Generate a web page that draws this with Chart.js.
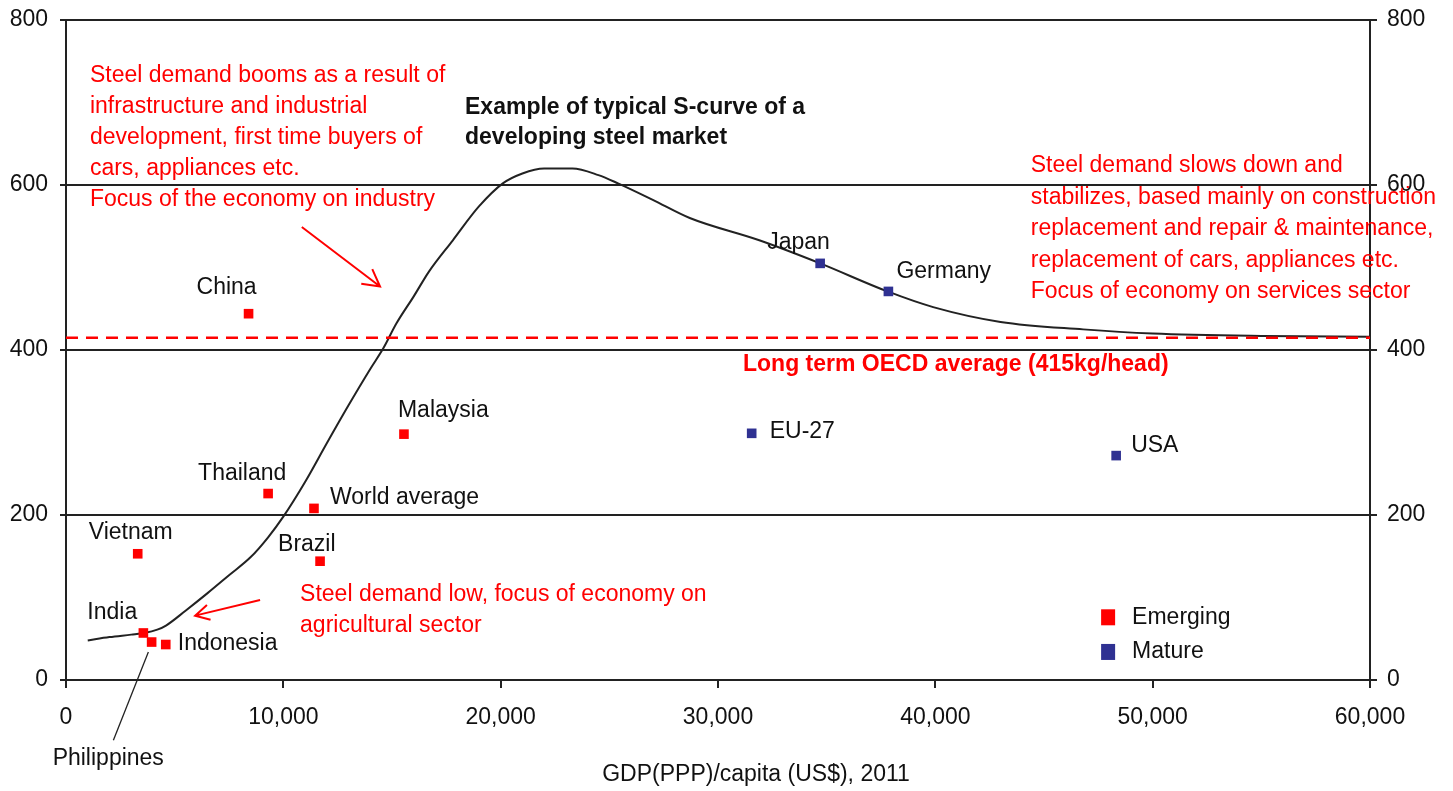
<!DOCTYPE html>
<html>
<head>
<meta charset="utf-8">
<script src="https://cdn.jsdelivr.net/npm/chart.js@4.4.1/dist/chart.umd.min.js"></script>
<style>
  body { margin: 0; background: #fff; }
  #wrap { width: 1453px; height: 791px; }
</style>
</head>
<body>
<div id="wrap"><canvas id="chart"></canvas></div>
<script>
// emerging economies (kg steel per head vs GDP per capita)
const emergingNames = ['China', 'Thailand', 'Vietnam', 'India', 'Philippines', 'Indonesia', 'Brazil', 'World average', 'Malaysia'];
const emergingGdp = [8400, 9300, 3300, 3560, 3940, 4590, 11690, 11410, 15550];
const emergingSteel = [444, 226, 153, 57, 46, 43, 144, 208, 298];

// mature economies
const matureNames = ['EU-27', 'USA', 'Japan', 'Germany'];
const matureGdp = [31550, 48320, 34700, 37840];
const matureSteel = [299, 272, 505, 471];

// typical S-curve
const curveGdp = [1000, 2000, 3000, 3600, 4200, 4600, 5500, 6500, 7500, 8500, 9300, 10000, 11000, 12000, 13000, 14000, 14600, 15200, 16000, 16700, 17800, 19000, 20100, 21000, 22000, 23300, 24500, 25400, 27000, 28700, 31900, 34700, 37800, 39900, 43000, 46800, 50000, 55000, 60000];
const curveSteel = [48, 52, 55, 57, 61, 66, 84, 105, 127, 149, 173, 198, 240, 287, 333, 377, 402, 432, 465, 495, 533, 574, 602, 614, 620, 620, 612, 602, 582, 560, 533, 505, 471, 452, 434, 425, 420, 417, 416];

const oecdAverage = 415;

const xTicks = [0, 10000, 20000, 30000, 40000, 50000, 60000];
const yTicks = [0, 200, 400, 600, 800];

// label placement (pixel offset of label's left/middle from its marker)
const labelOffsets = {
  'China': [-52, -26], 'Thailand': [-70, -20], 'Vietnam': [-49, -21], 'India': [-56, -20],
  'Philippines': [-99, 117], 'Indonesia': [12, -1], 'Brazil': [-42, -17], 'World average': [16, -11],
  'Malaysia': [-6, -23], 'EU-27': [18, -2], 'USA': [15, -10], 'Japan': [-53, -21], 'Germany': [8, -20]
};

const RED = '#ff0000';
const BLUE = '#2f3192';
const INK = '#111111';
const FAMILY = '"Liberation Sans", Arial, sans-serif';

const toPoints = (xs, ys) => xs.map((x, i) => ({ x: x, y: ys[i] }));

function arrow(ctx, x1, y1, x2, y2, head) {
  const a = Math.atan2(y2 - y1, x2 - x1);
  ctx.beginPath();
  ctx.moveTo(x1, y1);
  ctx.lineTo(x2, y2);
  ctx.moveTo(x2 - head * Math.cos(a - 0.5), y2 - head * Math.sin(a - 0.5));
  ctx.lineTo(x2, y2);
  ctx.lineTo(x2 - head * Math.cos(a + 0.5), y2 - head * Math.sin(a + 0.5));
  ctx.stroke();
}

function lines(ctx, arr, x, y, step) {
  arr.forEach((t, i) => ctx.fillText(t, x, y + i * step));
}

const annotate = {
  id: 'annotate',
  afterDatasetsDraw(chart) {
    const ctx = chart.ctx;
    const px = v => chart.scales.x.getPixelForValue(v);
    const py = v => chart.scales.y.getPixelForValue(v);
    ctx.save();
    ctx.textBaseline = 'middle';
    ctx.textAlign = 'left';

    // point labels
    ctx.font = '23px ' + FAMILY;
    ctx.fillStyle = INK;
    const put = (names, gx, sy) => names.forEach((n, i) => {
      const o = labelOffsets[n];
      ctx.fillText(n, px(gx[i]) + o[0], py(sy[i]) + o[1]);
    });
    put(emergingNames, emergingGdp, emergingSteel);
    put(matureNames, matureGdp, matureSteel);

    // Philippines leader line
    ctx.strokeStyle = '#222';
    ctx.lineWidth = 1.3;
    ctx.beginPath();
    ctx.moveTo(px(3790), py(34));
    ctx.lineTo(px(2180), py(-73));
    ctx.stroke();

    // title
    ctx.font = 'bold 23px ' + FAMILY;
    lines(ctx, ['Example of typical S-curve of a', 'developing steel market'], px(18360), py(694), 30);

    // red notes
    ctx.fillStyle = RED;
    ctx.font = '23px ' + FAMILY;
    lines(ctx, ['Steel demand booms as a result of', 'infrastructure and industrial',
      'development, first time buyers of', 'cars, appliances etc.', 'Focus of the economy on industry'],
      px(1100), py(732), 31);
    lines(ctx, ['Steel demand slows down and', 'stabilizes, based mainly on construction',
      'replacement and repair & maintenance,', 'replacement of cars, appliances etc.',
      'Focus of economy on services sector'], px(44390), py(623), 31.5);
    lines(ctx, ['Steel demand low, focus of economy on', 'agricultural sector'], px(10770), py(103), 31);
    ctx.font = 'bold 23px ' + FAMILY;
    ctx.fillText('Long term OECD average (415kg/head)', px(31150), py(382));

    // arrows
    ctx.strokeStyle = RED;
    ctx.lineWidth = 2;
    arrow(ctx, px(10850), py(549), px(14450), py(477), 19);
    arrow(ctx, px(8930), py(97), px(5940), py(78), 16);

    // legend
    const lx = px(47950);
    [[RED, 'Emerging', 76], [BLUE, 'Mature', 34]].forEach(([c, t, v]) => {
      const ly = py(v);
      ctx.fillStyle = c;
      ctx.fillRect(lx - 7, ly - 8, 14, 16);
      ctx.fillStyle = INK;
      ctx.font = '23px ' + FAMILY;
      ctx.fillText(t, lx + 24, ly);
    });

    // x-axis title
    ctx.textAlign = 'center';
    ctx.fillText('GDP(PPP)/capita (US$), 2011', px(31750), chart.chartArea.bottom + 95);
    ctx.restore();
  }
};

const tickFont = { family: FAMILY, size: 23 };

// fixed box sizes so the plot area lands where the original has it
const fixV = w => s => { s.width = w; s.paddingTop = 0; s.paddingBottom = 0; };

new Chart(document.getElementById('chart'), {
  type: 'scatter',
  data: {
    datasets: [
      {
        label: 'Emerging',
        data: toPoints(emergingGdp, emergingSteel),
        backgroundColor: RED,
        borderWidth: 0,
        pointStyle: 'rect',
        pointRadius: 6.8
      },
      {
        label: 'Mature',
        data: toPoints(matureGdp, matureSteel),
        backgroundColor: BLUE,
        borderWidth: 0,
        pointStyle: 'rect',
        pointRadius: 6.8
      },
      {
        label: 'OECD average',
        data: [{ x: 0, y: oecdAverage }, { x: 60000, y: oecdAverage }],
        showLine: true,
        borderColor: RED,
        borderWidth: 2.5,
        borderDash: [12, 8],
        pointRadius: 0
      },
      {
        label: 'S-curve',
        data: toPoints(curveGdp, curveSteel),
        showLine: true,
        borderColor: '#222',
        borderWidth: 2,
        cubicInterpolationMode: 'monotone',
        pointRadius: 0
      }
    ]
  },
  options: {
    responsive: true,
    maintainAspectRatio: false,
    animation: false,
    layout: { padding: { top: 20, left: 0, right: 0, bottom: 0 } },
    plugins: {
      legend: { display: false },
      tooltip: { enabled: false }
    },
    scales: {
      x: {
        type: 'linear',
        min: 0,
        max: 60000,
        afterBuildTicks: s => { s.ticks = xTicks.map(v => ({ value: v })); },
        afterFit: s => { s.height = 111; s.paddingLeft = 0; s.paddingRight = 0; },
        ticks: {
          font: tickFont,
          color: INK,
          padding: 16,
          maxRotation: 0,
          callback: v => v.toLocaleString('en-US')
        },
        grid: { drawOnChartArea: false, tickLength: 8, color: '#222', lineWidth: 2 },
        border: { color: '#222', width: 2 }
      },
      y: {
        position: 'left',
        min: 0,
        max: 800,
        afterBuildTicks: s => { s.ticks = yTicks.map(v => ({ value: v })); },
        afterFit: fixV(66),
        ticks: { font: tickFont, color: INK, padding: 12 },
        grid: { color: '#222', lineWidth: 2, tickLength: 6 },
        border: { color: '#222', width: 2 }
      },
      y2: {
        position: 'right',
        min: 0,
        max: 800,
        afterBuildTicks: s => { s.ticks = yTicks.map(v => ({ value: v })); },
        afterFit: fixV(83),
        ticks: { font: tickFont, color: INK, padding: 10 },
        grid: { drawOnChartArea: false, color: '#222', lineWidth: 2, tickLength: 7 },
        border: { color: '#222', width: 2 }
      }
    }
  },
  plugins: [annotate]
});
</script>
</body>
</html>
